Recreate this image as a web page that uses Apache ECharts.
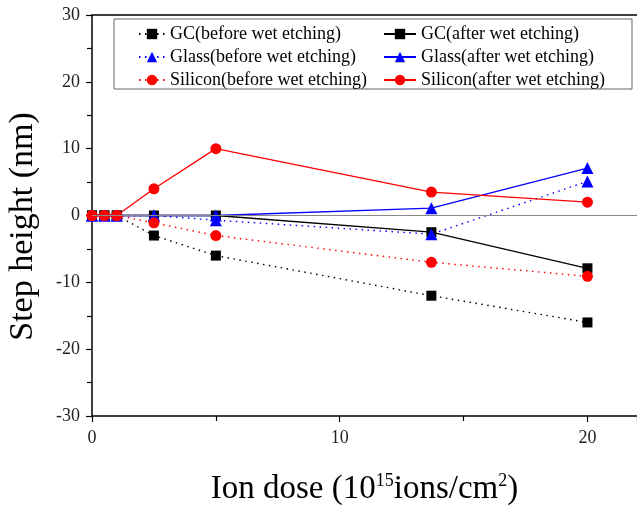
<!DOCTYPE html>
<html>
<head>
<meta charset="utf-8">
<script src="https://cdn.jsdelivr.net/npm/echarts@6/dist/echarts.min.js"></script>
<style>
  html, body { margin: 0; padding: 0; background: #fff; }
  #main { width: 637px; height: 505px; }
</style>
</head>
<body>
<div id="main"></div>
<script>
// dose values (10^15 ions/cm^2)
var doses = [0, 0.5, 1, 2.5, 5, 13.7, 20];

var gcBefore      = [0, 0, 0, -3, -6, -12, -16];
var gcAfter       = [0, 0, 0, 0, 0, -2.5, -7.9];
var glassBefore   = [0, 0, 0, 0, -0.7, -2.8, 5.1];
var glassAfter    = [0, 0, 0, 0, 0, 1.1, 7.1];
var siliconBefore = [0, 0, 0, -1.1, -3, -7, -9.1];
var siliconAfter  = [0, 0, 0, 4, 10, 3.5, 2];

var xTicks = [0, 10, 20];
var yTicks = [-30, -20, -10, 0, 10, 20, 30];

var serif = '"Liberation Serif", "Times New Roman", serif';

function pairs(ys) {
  return doses.map(function (x, i) { return [x, ys[i]]; });
}

function makeSeries(name, ys, color, symbol, size, dotted) {
  return {
    name: name,
    type: 'line',
    data: pairs(ys),
    symbol: symbol,
    symbolSize: size,
    itemStyle: { color: color },
    lineStyle: dotted
      ? { color: color, width: 1.4, type: [1.5, 4.5] }
      : { color: color, width: 1.3, type: 'solid' },
    z: 3
  };
}

var series = [
  makeSeries('GC(before wet etching)', gcBefore, '#000000', 'rect', 10, true),
  makeSeries('GC(after wet etching)', gcAfter, '#000000', 'rect', 10, false),
  makeSeries('Glass(before wet etching)', glassBefore, '#0000ff', 'triangle', 12, true),
  makeSeries('Glass(after wet etching)', glassAfter, '#0000ff', 'triangle', 12, false),
  makeSeries('Silicon(before wet etching)', siliconBefore, '#ff0000', 'circle', 11, true),
  makeSeries('Silicon(after wet etching)', siliconAfter, '#ff0000', 'circle', 11, false)
];

// gray zero line
series[0].markLine = {
  silent: true,
  symbol: 'none',
  label: { show: false },
  lineStyle: { color: '#888', width: 1, type: 'solid' },
  data: [{ yAxis: 0 }]
};

var legendText = { fontFamily: serif, fontSize: 18, color: '#000' };

var option = {
  animation: false,
  backgroundColor: '#fff',
  grid: { left: 92, right: 0, top: 15, bottom: 89, containLabel: false, outerBoundsMode: 'none' },
  graphic: [{
    type: 'rect',
    shape: { x: 114, y: 19, width: 518, height: 70 },
    style: { fill: '#fff', stroke: '#666', lineWidth: 1 },
    z: 10
  }],
  legend: [{
    orient: 'vertical',
    left: 133,
    top: 20,
    itemWidth: 26,
    itemHeight: 13,
    itemGap: 5,
    textStyle: legendText,
    data: series.filter(function (s, i) { return i % 2 === 0; }).map(function (s) { return s.name; }),
    z: 11
  }, {
    orient: 'vertical',
    left: 378,
    top: 20,
    itemWidth: 32,
    itemHeight: 13,
    itemGap: 5,
    textStyle: legendText,
    data: series.filter(function (s, i) { return i % 2 === 1; }).map(function (s) { return s.name; }),
    z: 11
  }],
  xAxis: [{
    type: 'value',
    min: 0,
    max: 22,
    interval: 10,
    splitLine: { show: false },
    axisLine: { show: true, onZero: false, lineStyle: { color: '#000', width: 1.5 } },
    axisTick: { show: true, inside: false, length: 6, lineStyle: { color: '#000', width: 1.2 } },
    minorTick: { show: true, splitNumber: 2, length: 5, lineStyle: { color: '#000', width: 1.2 } },
    axisLabel: {
      fontFamily: serif, fontSize: 18, color: '#222', margin: 13,
      customValues: xTicks
    },
    name: 'Ion dose (10{sup|15}ions/cm{sup|2})',
    nameLocation: 'middle',
    nameGap: 56,
    nameTextStyle: {
      fontFamily: serif, fontSize: 33, color: '#000',
      rich: {
        sup: { fontFamily: serif, fontSize: 18, color: '#000', verticalAlign: 'top', padding: [0, 0, 16, 0] }
      }
    }
  }, {
    type: 'value',
    position: 'top',
    min: 0,
    max: 22,
    axisLine: { show: true, onZero: false, lineStyle: { color: '#000', width: 1.5 } },
    axisTick: { show: false },
    axisLabel: { show: false },
    splitLine: { show: false }
  }],
  yAxis: {
    type: 'value',
    min: -30,
    max: 30,
    interval: 10,
    splitLine: { show: false },
    axisLine: { show: true, onZero: false, lineStyle: { color: '#000', width: 1.5 } },
    axisTick: { show: true, inside: false, length: 6, lineStyle: { color: '#000', width: 1.2 } },
    minorTick: { show: true, splitNumber: 2, length: 5, lineStyle: { color: '#000', width: 1.2 } },
    axisLabel: {
      fontFamily: serif, fontSize: 18, color: '#222', margin: 12,
      customValues: yTicks
    },
    name: 'Step height (nm)',
    nameLocation: 'middle',
    nameGap: 52,
    nameTextStyle: { fontFamily: serif, fontSize: 34, color: '#000', padding: [0, 22, 0, 0] }
  },
  series: series
};

echarts.init(document.getElementById('main')).setOption(option);
</script>
</body>
</html>
